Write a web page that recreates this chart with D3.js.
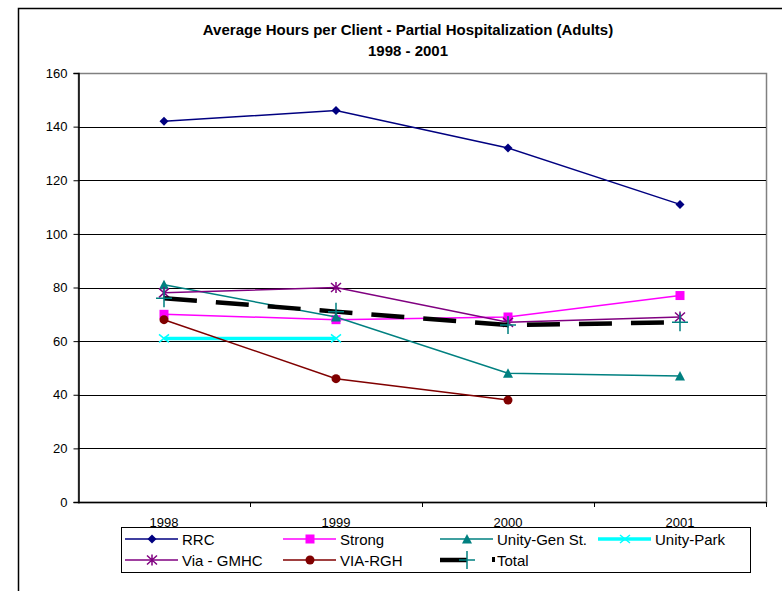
<!DOCTYPE html>
<html>
<head>
  <title>Average Hours per Client - Partial Hospitalization (Adults)</title>
  <script src="https://d3js.org/d3.v7.min.js"></script>
  <style>
    body { margin: 0; background: #fff; }
    svg { font-family: Arial, "Liberation Sans", sans-serif; }
    .tick-label { font-size: 13px; fill: #000; }
    .legend-label { font-size: 15px; fill: #000; }
    .title { font-size: 15px; font-weight: bold; }
  </style>
</head>
<body>
  <svg width="782" height="591"></svg>

  <script>
    // chart data
    const years = ['1998', '1999', '2000', '2001'];
    const yTicks = [0, 20, 40, 60, 80, 100, 120, 140, 160];

    const rrc        = [142, 146, 132, 111];
    const strong     = [70, 68, 69, 77];
    const unityGen   = [81, 69, 48, 47];
    const unityPark  = [61, 61, null, null];
    const viaGmhc    = [78, 80, 67, 69];
    const viaRgh     = [68, 46, 38, null];
    const total      = [76, 71, 66, 67];

    const series = [
      { name: 'RRC', values: rrc, color: '#000080', width: 1.5, marker: 'diamond' },
      { name: 'Strong', values: strong, color: '#ff00ff', width: 1.5, marker: 'square' },
      { name: 'Unity-Gen St.', values: unityGen, color: '#008080', width: 1.5, marker: 'triangle' },
      { name: 'Unity-Park', values: unityPark, color: '#00ffff', width: 3.5, marker: 'x' },
      { name: 'Via - GMHC', values: viaGmhc, color: '#800080', width: 1.5, marker: 'star' },
      { name: 'VIA-RGH', values: viaRgh, color: '#800000', width: 1.5, marker: 'circle' },
      { name: 'Total', values: total, color: '#000', width: 4.5, marker: 'plus', dash: '33,19', markerColor: '#008080' }
    ];

    const svg = d3.select('svg');

    // outer chart border (right and bottom run off the page)
    svg.append('path')
      .attr('d', 'M18.5,591 V8.5 H782')
      .attr('fill', 'none')
      .attr('stroke', '#000')
      .attr('stroke-width', 1.5);

    svg.append('text').attr('class', 'title')
      .attr('x', 408).attr('y', 35).attr('text-anchor', 'middle')
      .text('Average Hours per Client - Partial Hospitalization (Adults)');
    svg.append('text').attr('class', 'title')
      .attr('x', 408).attr('y', 56).attr('text-anchor', 'middle')
      .text('1998 - 2001');

    const plotLeft = 78, plotRight = 766, plotTop = 73, plotBottom = 502;

    const x = d3.scaleBand().domain(years).range([plotLeft, plotRight]).padding(0);
    const y = d3.scaleLinear().domain([0, 160]).range([plotBottom, plotTop]);
    const cx = d => x(d) + x.bandwidth() / 2;

    // plot area border
    svg.append('rect')
      .attr('x', plotLeft + 0.5).attr('y', plotTop + 0.5)
      .attr('width', plotRight - plotLeft).attr('height', plotBottom - plotTop)
      .attr('fill', 'none').attr('stroke', '#808080').attr('stroke-width', 1.5);

    // gridlines
    svg.append('g')
      .selectAll('line')
      .data(yTicks.filter(t => t > 0 && t < 160))
      .enter().append('line')
      .attr('x1', plotLeft).attr('x2', plotRight)
      .attr('y1', d => Math.round(y(d)) + 0.5)
      .attr('y2', d => Math.round(y(d)) + 0.5)
      .attr('stroke', '#000').attr('stroke-width', 1);

    // y axis
    const yAxis = svg.append('g')
      .attr('transform', `translate(${plotLeft + 0.5},0)`)
      .call(d3.axisLeft(y).tickValues(yTicks).tickSize(5).tickPadding(6));
    yAxis.select('.domain').attr('stroke', '#000').attr('stroke-width', 1.5);
    yAxis.selectAll('.tick line').attr('stroke', '#000');
    yAxis.selectAll('.tick text')
      .attr('class', 'tick-label')
      .style('font-family', 'Arial, "Liberation Sans", sans-serif')
      .style('font-size', '13px');

    // x axis (ticks between categories)
    svg.append('line')
      .attr('x1', plotLeft).attr('x2', plotRight)
      .attr('y1', plotBottom + 0.5).attr('y2', plotBottom + 0.5)
      .attr('stroke', '#000').attr('stroke-width', 1.5);
    svg.append('g')
      .selectAll('line')
      .data(years)
      .enter().append('line')
      .attr('x1', d => x(d) + x.bandwidth() + 0.5)
      .attr('x2', d => x(d) + x.bandwidth() + 0.5)
      .attr('y1', plotBottom).attr('y2', plotBottom + 5)
      .attr('stroke', '#000');
    svg.append('g')
      .selectAll('text')
      .data(years)
      .enter().append('text')
      .attr('class', 'tick-label')
      .attr('x', d => cx(d))
      .attr('y', 527)
      .attr('text-anchor', 'middle')
      .text(d => d);

    function drawMarker(g, type, color, px, py) {
      const s = 4.5;
      if (type === 'diamond') {
        g.append('path').attr('d', `M${px},${py - s} L${px + s},${py} L${px},${py + s} L${px - s},${py} Z`).attr('fill', color);
      } else if (type === 'square') {
        g.append('rect').attr('x', px - s).attr('y', py - s).attr('width', 2 * s).attr('height', 2 * s).attr('fill', color);
      } else if (type === 'triangle') {
        g.append('path').attr('d', `M${px},${py - 5} L${px + 5},${py + 4.5} L${px - 5},${py + 4.5} Z`).attr('fill', color);
      } else if (type === 'circle') {
        g.append('circle').attr('cx', px).attr('cy', py).attr('r', 4.5).attr('fill', color);
      } else if (type === 'x') {
        g.append('path').attr('d', `M${px - 5},${py - 4} L${px + 5},${py + 4} M${px - 5},${py + 4} L${px + 5},${py - 4}`)
          .attr('stroke', color).attr('stroke-width', 1.5).attr('fill', 'none');
      } else if (type === 'star') {
        g.append('path').attr('d', `M${px - 5},${py - 4.5} L${px + 5},${py + 4.5} M${px - 5},${py + 4.5} L${px + 5},${py - 4.5} M${px},${py - 5.5} L${px},${py + 5.5}`)
          .attr('stroke', color).attr('stroke-width', 1.5).attr('fill', 'none');
      } else if (type === 'plus') {
        g.append('path').attr('d', `M${px - 8},${py} L${px + 8},${py} M${px},${py - 9} L${px},${py + 9}`)
          .attr('stroke', color).attr('stroke-width', 1.5).attr('fill', 'none');
      }
    }

    // series lines and markers
    const line = d3.line()
      .defined(d => d.v !== null)
      .x(d => cx(d.year))
      .y(d => y(d.v));

    series.forEach(s => {
      const pts = years.map((yr, i) => ({ year: yr, v: s.values[i] }));
      svg.append('path')
        .datum(pts)
        .attr('d', line)
        .attr('fill', 'none')
        .attr('stroke', s.color)
        .attr('stroke-width', s.width)
        .attr('stroke-dasharray', s.dash || null);
      const g = svg.append('g');
      pts.filter(p => p.v !== null).forEach(p => {
        drawMarker(g, s.marker, s.markerColor || s.color, cx(p.year), y(p.v));
      });
    });

    // legend
    const lg = svg.append('g');
    lg.append('rect')
      .attr('x', 121.5).attr('y', 527.5).attr('width', 629).attr('height', 45)
      .attr('fill', '#fff').attr('stroke', '#000').attr('stroke-width', 1);

    const colX = [125, 283, 440, 598];
    const rowY = [539, 560];
    series.forEach((s, i) => {
      const lx = colX[i % 4], ly = rowY[Math.floor(i / 4)];
      const g = lg.append('g');
      if (s.name === 'Total') {
        g.append('line').attr('x1', lx).attr('x2', lx + 27).attr('y1', ly).attr('y2', ly)
          .attr('stroke', s.color).attr('stroke-width', s.width);
        drawMarker(g, s.marker, s.markerColor, lx + 27, ly);
        g.append('rect').attr('x', lx + 52).attr('y', ly - 3).attr('width', 3).attr('height', 5).attr('fill', '#000');
      } else {
        g.append('line').attr('x1', lx).attr('x2', lx + 53).attr('y1', ly).attr('y2', ly)
          .attr('stroke', s.color).attr('stroke-width', s.width);
        drawMarker(g, s.marker, s.color, lx + 27, ly);
      }
      g.append('text').attr('class', 'legend-label')
        .attr('x', lx + 57).attr('y', ly + 5.5)
        .text(s.name);
    });
  </script>
</body>
</html>
